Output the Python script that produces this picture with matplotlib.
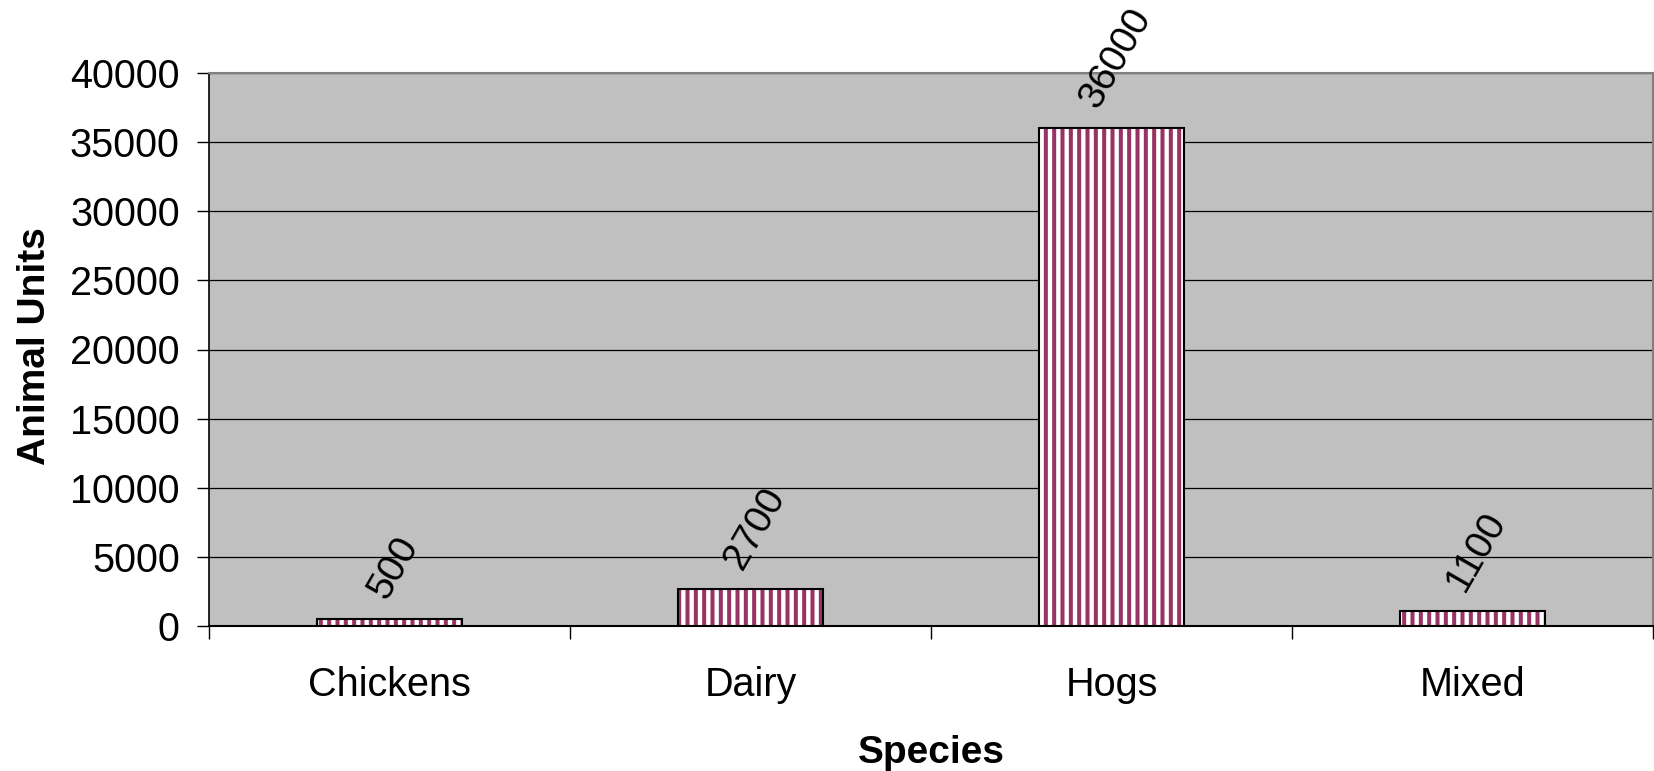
import matplotlib
matplotlib.use("Agg")
import matplotlib.pyplot as plt
import numpy as np

categories = ["Chickens", "Dairy", "Hogs", "Mixed"]
values = [500, 2700, 36000, 1100]
yticks = [0, 5000, 10000, 15000, 20000, 25000, 30000, 35000, 40000]

plt.rcParams['font.family'] = ['Liberation Sans', 'DejaVu Sans']
plt.rcParams['hatch.linewidth'] = 2.9

W, H = 1654, 771
fig = plt.figure(figsize=(W / 100, H / 100), dpi=100)
ax = fig.add_axes([209 / W, 1 - 626 / H, 1444 / W, 553 / H])
ax.set_facecolor('#C0C0C0')

x = np.arange(len(categories))
bw = 0.40
ax.bar(x, values, width=bw, color='white', edgecolor='#993366', linewidth=0,
       hatch='||', zorder=3)
ax.bar(x, values, width=bw, fill=False, edgecolor='black', linewidth=1.5, zorder=4)

for xi, v in zip(x, values):
    ax.annotate(str(v), (xi, v), xytext=(3, 10), textcoords='offset points',
                ha='center', va='bottom', rotation=60, fontsize=28,
                annotation_clip=False, zorder=5)

ax.set_xlim(-0.5, len(categories) - 0.5)
ax.set_ylim(0, 40000)
ax.set_yticks(yticks)
ax.set_yticklabels([str(t) for t in yticks])
ax.yaxis.grid(True, color='black', linewidth=0.9, zorder=1)
ax.set_axisbelow(True)

ax.set_xticks(np.arange(len(categories) + 1) - 0.5)
ax.set_xticklabels([])
ax.set_xticks(x, minor=True)
ax.set_xticklabels(categories, minor=True)
ax.tick_params(axis='x', which='major', direction='out', length=9, width=1, color='black')
ax.tick_params(axis='x', which='minor', length=0, pad=29, labelsize=28.5)
ax.tick_params(axis='y', direction='out', length=9, width=1, pad=12, labelsize=28.5)

for s in ['top', 'right']:
    ax.spines[s].set_color('#808080')
    ax.spines[s].set_linewidth(1.5)
ax.spines['left'].set_color('black')
ax.spines['left'].set_linewidth(1.2)
ax.spines['bottom'].set_color('black')
ax.spines['bottom'].set_linewidth(1.5)

fig.text(35 / W, 1 - 346 / H, 'Animal Units', rotation=90, ha='center', va='center',
         fontsize=28, fontweight='bold')
fig.text(931 / W, 1 - 763 / H, 'Species', ha='center', va='baseline',
         fontsize=28, fontweight='bold')

fig.savefig('out.png', dpi=100, facecolor='white')
